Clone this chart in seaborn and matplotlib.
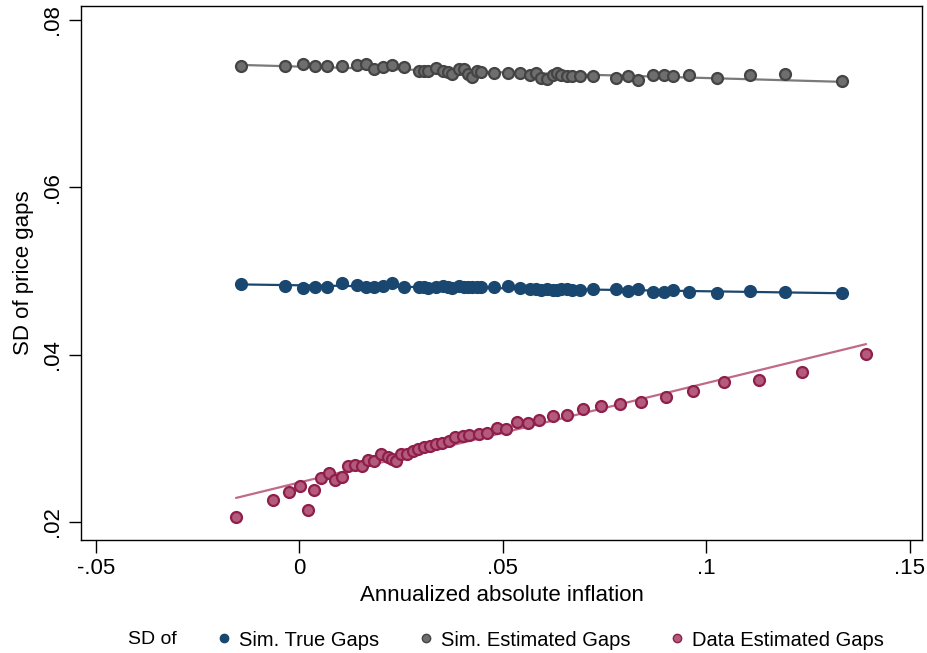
import numpy as np
import pandas as pd
import matplotlib
matplotlib.use("Agg")
import matplotlib.pyplot as plt
from matplotlib.lines import Line2D
import seaborn as sns

# ---------------- data ----------------
sim_x = [-0.01445, -0.00344, 0.00098, 0.00388, 0.00668, 0.01044, 0.01413, 0.01646, 0.01826, 0.02052,
         0.02265, 0.02575, 0.02948, 0.03054, 0.03157, 0.03354, 0.03531, 0.03654, 0.03747, 0.03926,
         0.04042, 0.04130, 0.04246, 0.04356, 0.04472, 0.04791, 0.05135, 0.05418, 0.05659, 0.05803,
         0.05934, 0.06091, 0.06224, 0.06327, 0.06430, 0.06565, 0.06688, 0.06900, 0.07206, 0.07776,
         0.08079, 0.08310, 0.08678, 0.08956, 0.09170, 0.09577, 0.10265, 0.11076, 0.11936, 0.13346]

sim_est = [0.07447, 0.07454, 0.07478, 0.07444, 0.07444, 0.07448, 0.07456, 0.07468, 0.07417, 0.07432,
           0.07456, 0.07435, 0.07385, 0.07393, 0.07395, 0.07423, 0.07387, 0.07379, 0.07357, 0.07412,
           0.07420, 0.07352, 0.07319, 0.07388, 0.07379, 0.07369, 0.07363, 0.07361, 0.07339, 0.07370,
           0.07309, 0.07291, 0.07345, 0.07368, 0.07343, 0.07334, 0.07334, 0.07325, 0.07333, 0.07301,
           0.07327, 0.07283, 0.07346, 0.07339, 0.07331, 0.07339, 0.07310, 0.07339, 0.07351, 0.07267]

sim_true = [0.04845, 0.04817, 0.04791, 0.04807, 0.04807, 0.04859, 0.04829, 0.04812, 0.04812, 0.04818,
            0.04854, 0.04811, 0.04809, 0.04803, 0.04799, 0.04803, 0.04821, 0.04803, 0.04797, 0.04815,
            0.04803, 0.04805, 0.04805, 0.04803, 0.04809, 0.04809, 0.04821, 0.04793, 0.04779, 0.04787,
            0.04773, 0.04779, 0.04767, 0.04773, 0.04779, 0.04779, 0.04773, 0.04769, 0.04785, 0.04781,
            0.04761, 0.04785, 0.04753, 0.04753, 0.04769, 0.04753, 0.04737, 0.04765, 0.04753, 0.04737]

data_x = [-0.01560, -0.00658, -0.00258, 0.00012, 0.00201, 0.00356, 0.00521, 0.00717, 0.00865, 0.01037,
          0.01192, 0.01371, 0.01528, 0.01683, 0.01838, 0.01995, 0.02167, 0.02273, 0.02371, 0.02494,
          0.02634, 0.02781, 0.02919, 0.03059, 0.03206, 0.03354, 0.03501, 0.03666, 0.03833, 0.04017,
          0.04177, 0.04410, 0.04614, 0.04845, 0.05074, 0.05337, 0.05607, 0.05892, 0.06236, 0.06580,
          0.06973, 0.07408, 0.07875, 0.08398, 0.08998, 0.09661, 0.10423, 0.11290, 0.12339, 0.13926]

data_est = [0.02064, 0.02263, 0.02359, 0.02431, 0.02147, 0.02379, 0.02526, 0.02586, 0.02502, 0.02542,
            0.02673, 0.02678, 0.02666, 0.02741, 0.02733, 0.02813, 0.02774, 0.02757, 0.02726, 0.02813,
            0.02817, 0.02852, 0.02873, 0.02893, 0.02909, 0.02936, 0.02944, 0.02972, 0.03019, 0.03033,
            0.03036, 0.03052, 0.03068, 0.03120, 0.03112, 0.03195, 0.03180, 0.03219, 0.03267, 0.03279,
            0.03351, 0.03387, 0.03414, 0.03438, 0.03491, 0.03570, 0.03670, 0.03697, 0.03789, 0.04008]

series_names = ["Sim. True Gaps", "Sim. Estimated Gaps", "Data Estimated Gaps"]
x_ticks = [-0.05, 0, 0.05, 0.1, 0.15]
x_tick_labels = ["-.05", "0", ".05", ".1", ".15"]
y_ticks = [0.02, 0.04, 0.06, 0.08]
y_tick_labels = [".02", ".04", ".06", ".08"]

# ---------------- style ----------------
sns.set_theme(style="white")
plt.rcParams["font.family"] = ["Liberation Sans", "DejaVu Sans"]
plt.rcParams["text.color"] = "black"
plt.rcParams["axes.labelcolor"] = "black"
plt.rcParams["xtick.color"] = "black"
plt.rcParams["ytick.color"] = "black"

styles = {
    "Sim. True Gaps": dict(face="#1a476f", edge="#1a476f", line="#1a476f"),
    "Sim. Estimated Gaps": dict(face="#6e6e6e", edge="#444444", line="#7a7a7a"),
    "Data Estimated Gaps": dict(face="#b45a7c", edge="#8e1f4a", line="#c06a8a"),
}

df = pd.concat([
    pd.DataFrame({"x": sim_x, "y": sim_true, "series": series_names[0]}),
    pd.DataFrame({"x": sim_x, "y": sim_est, "series": series_names[1]}),
    pd.DataFrame({"x": data_x, "y": data_est, "series": series_names[2]}),
], ignore_index=True)

fig = plt.figure(figsize=(9.28, 6.53), dpi=100)
ax = fig.add_axes([81 / 928, 1 - 540 / 653, (922 - 81) / 928, (540 - 6) / 653])

for name in series_names:
    st = styles[name]
    sub = df[df["series"] == name]
    sns.regplot(data=sub, x="x", y="y", scatter=False, ci=None, ax=ax,
                line_kws=dict(color=st["line"], lw=1.6, zorder=2))
    sns.scatterplot(data=sub, x="x", y="y", ax=ax, s=62, color=st["face"],
                    edgecolor=st["edge"], linewidth=1.6, zorder=3, legend=False)

ax.set_xlim(-0.0537, 0.153)
ax.set_ylim(0.01785, 0.08167)
ax.set_xticks(x_ticks)
ax.set_xticklabels(x_tick_labels, fontsize=16)
ax.set_yticks(y_ticks)
ax.set_yticklabels(y_tick_labels, fontsize=16, rotation=90, va="center")
ax.tick_params(axis="both", direction="out", length=9, width=1.0, color="black",
               labelcolor="black", bottom=True, left=True, pad=4)
ax.set_xlabel("Annualized absolute inflation", fontsize=16, labelpad=4, color="black")
ax.set_ylabel("SD of price gaps", fontsize=16, labelpad=6, color="black")
for sp in ax.spines.values():
    sp.set_visible(True)
    sp.set_color("black")
    sp.set_linewidth(1.0)
ax.grid(False)

# legend
fig.text(152 / 928, 1 - 640 / 653, "SD of", fontsize=14, ha="center", va="center", color="black")
handles = [Line2D([0], [0], marker="o", ls="none", markersize=6,
                  markerfacecolor=styles[n]["face"], markeredgecolor=styles[n]["edge"],
                  markeredgewidth=1.0) for n in series_names]
leg = fig.legend(handles, series_names, loc="center", bbox_to_anchor=(549 / 928, 1 - 640 / 653),
                 ncol=3, frameon=False, fontsize=14.5, handletextpad=0.25, columnspacing=1.8,
                 handlelength=1.0)
for t in leg.get_texts():
    t.set_color("black")

fig.savefig("out.png", dpi=100)
